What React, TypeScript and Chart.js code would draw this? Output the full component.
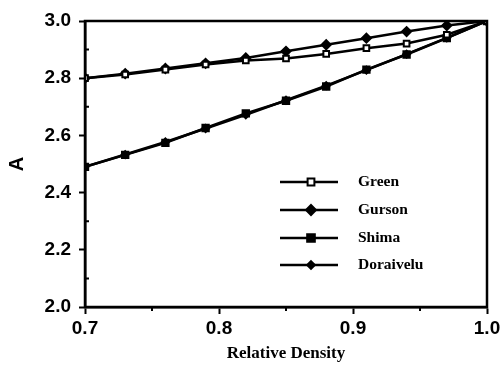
import React, { useEffect, useRef } from "react";
import { Chart, registerables } from "chart.js";

Chart.register(...registerables);

const density = [0.7, 0.73, 0.76, 0.79, 0.82, 0.85, 0.88, 0.91, 0.94, 0.97, 1.0];
const green = [2.8, 2.813, 2.83, 2.848, 2.862, 2.869, 2.885, 2.905, 2.921, 2.952, 3.0];
const gurson = [2.8, 2.816, 2.834, 2.852, 2.871, 2.894, 2.917, 2.94, 2.963, 2.984, 3.0];
const shima = [2.49, 2.532, 2.574, 2.626, 2.677, 2.721, 2.771, 2.83, 2.883, 2.94, 3.0];
const doraivelu = [2.49, 2.533, 2.577, 2.624, 2.672, 2.723, 2.774, 2.828, 2.884, 2.941, 3.0];
const legendLabels = ["Green", "Gurson", "Shima", "Doraivelu"];
const xTicks = [0.7, 0.8, 0.9, 1.0];
const yTicks = [2.0, 2.2, 2.4, 2.6, 2.8, 3.0];
const yMinor = [2.1, 2.3, 2.5, 2.7, 2.9];
const xMinor = [0.75, 0.85, 0.95];

const styles = [
  { pointStyle: "rect", radius: 4, fill: "#ffffff" },
  { pointStyle: "rectRot", radius: 4.5, fill: "#000000" },
  { pointStyle: "rect", radius: 4.5, fill: "#000000" },
  { pointStyle: "rectRot", radius: 3.5, fill: "#000000" },
];

const framePlugin = {
  id: "frame",
  afterDatasetsDraw(chart: any) {
    const { ctx, chartArea, scales } = chart;
    ctx.save();
    ctx.strokeStyle = "#000";
    ctx.lineWidth = 2.5;
    ctx.strokeRect(chartArea.left, chartArea.top, chartArea.right - chartArea.left, chartArea.bottom - chartArea.top);
    ctx.lineWidth = 2;
    ctx.beginPath();
    for (const v of yMinor) {
      const y = scales.y.getPixelForValue(v);
      ctx.moveTo(chartArea.left, y);
      ctx.lineTo(chartArea.left + 4, y);
    }
    for (const v of xMinor) {
      const x = scales.x.getPixelForValue(v);
      ctx.moveTo(x, chartArea.bottom);
      ctx.lineTo(x, chartArea.bottom + 4);
    }
    ctx.stroke();

    // legend
    const rows = [182, 210, 238, 265];
    const x0 = 280, x1 = 338, xm = 311, xt = 358;
    ctx.font = "bold 15.5px 'Liberation Serif', serif";
    ctx.textBaseline = "middle";
    ctx.textAlign = "left";
    legendLabels.forEach((lab, i) => {
      const y = rows[i];
      ctx.lineWidth = 2.5;
      ctx.strokeStyle = "#000";
      ctx.beginPath();
      ctx.moveTo(x0, y);
      ctx.lineTo(x1, y);
      ctx.stroke();
      const s = styles[i];
      const r = s.radius * 0.85;
      ctx.fillStyle = s.fill;
      ctx.lineWidth = 2;
      ctx.beginPath();
      if (s.pointStyle === "rect") {
        ctx.rect(xm - r, y - r, r * 2, r * 2);
      } else {
        ctx.moveTo(xm, y - r * 1.3);
        ctx.lineTo(xm + r * 1.3, y);
        ctx.lineTo(xm, y + r * 1.3);
        ctx.lineTo(xm - r * 1.3, y);
        ctx.closePath();
      }
      ctx.fill();
      ctx.stroke();
      ctx.fillStyle = "#000";
      ctx.fillText(lab, xt, y);
    });
    ctx.restore();
  },
};

export default function App() {
  const ref = useRef<HTMLCanvasElement>(null);
  useEffect(() => {
    const series = [green, gurson, shima, doraivelu];
    const chart = new Chart(ref.current!, {
      type: "line",
      data: {
        datasets: series.map((vals, i) => ({
          label: legendLabels[i],
          data: density.map((x, j) => ({ x, y: vals[j] })),
          borderColor: "#000",
          borderWidth: 2.5,
          backgroundColor: styles[i].fill,
          pointStyle: styles[i].pointStyle as any,
          pointRadius: styles[i].radius,
          pointBorderWidth: 2,
          pointBorderColor: "#000",
          pointBackgroundColor: styles[i].fill,
          tension: 0,
          fill: false,
        })),
      },
      options: {
        responsive: false,
        animation: false,
        events: [],
        layout: { padding: { top: 21, right: 17, left: 0, bottom: 0 } },
        plugins: { legend: { display: false }, tooltip: { enabled: false } },
        scales: {
          x: {
            type: "linear",
            min: 0.7,
            max: 1.0,
            afterBuildTicks: (s: any) => {
              s.ticks = xTicks.map((v) => ({ value: v }));
            },
            afterFit: (s: any) => {
              s.height = 60;
            },
            border: { display: true, color: "#000", width: 2.5 },
            grid: { drawOnChartArea: false, drawTicks: true, tickLength: 7, tickWidth: 2, color: "#000" },
            ticks: {
              color: "#000",
              padding: 3,
              maxRotation: 0,
              autoSkip: false,
              font: { family: "'Liberation Sans', Arial, sans-serif", size: 19, weight: "bold" },
              callback: (v: any) => Number(v).toFixed(1),
            },
            title: {
              display: true,
              text: "Relative Density",
              color: "#000",
              font: { family: "'Liberation Serif', serif", size: 17, weight: "bold" },
              padding: { top: 0, bottom: 3 },
            },
          },
          y: {
            type: "linear",
            min: 2.0,
            max: 3.0,
            afterBuildTicks: (s: any) => {
              s.ticks = yTicks.map((v) => ({ value: v }));
            },
            afterFit: (s: any) => {
              s.width = 85;
            },
            border: { display: true, color: "#000", width: 2.5 },
            grid: { drawOnChartArea: false, drawTicks: true, tickLength: 6, tickWidth: 2, color: "#000" },
            ticks: {
              color: "#000",
              padding: 8,
              autoSkip: false,
              font: { family: "'Liberation Sans', Arial, sans-serif", size: 19, weight: "bold" },
              callback: (v: any) => Number(v).toFixed(1),
            },
            title: {
              display: true,
              text: "A",
              color: "#000",
              font: { family: "'Liberation Sans', Arial, sans-serif", size: 20, weight: "bold" },
              padding: { top: 5, bottom: 0 },
            },
          },
        },
      },
      plugins: [framePlugin],
    });
    return () => chart.destroy();
  }, []);
  return (
    <div style={{ position: "absolute", left: 0, top: 0, width: 504, height: 367, background: "#fff" }}>
      <canvas ref={ref} width={504} height={367} style={{ width: 504, height: 367 }} />
    </div>
  );
}
